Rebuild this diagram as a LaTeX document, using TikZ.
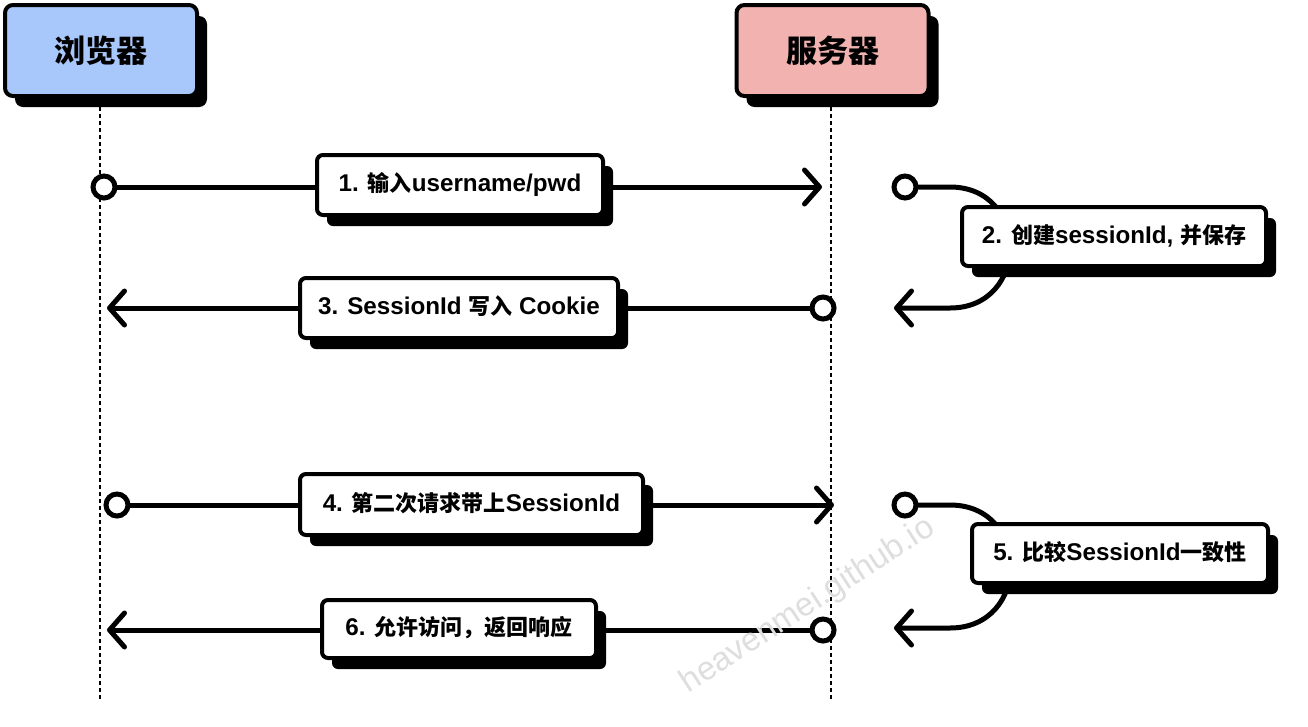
\documentclass[tikz,border=0pt]{standalone}
\usepackage{fontspec}
\setmainfont{Liberation Sans}[Scale=1.1]
\newfontfamily\cjk{Noto Sans CJK SC}
\newfontfamily\wmfont{Liberation Sans}
\usetikzlibrary{arrows.meta,shadows}
\newcommand\zhw[1]{{\cjk #1}}
\definecolor{browserblue}{RGB}{168,199,250}
\definecolor{serverpink}{RGB}{242,178,176}
\begin{document}
\begin{tikzpicture}[x=1pt,y=-1pt,
  shadowed/.style={drop shadow={shadow xshift=10pt, shadow yshift=-11pt, opacity=1, fill=black}},
  lbl/.style={draw=black, line width=4pt, rounded corners=6pt, fill=white, inner sep=0pt,
    text height=17pt, text depth=4pt,
    font=\fontsize{22}{26}\selectfont\bfseries, shadowed},
  title/.style={draw=black, line width=4pt, rounded corners=8pt, inner sep=0pt,
    minimum width=192pt, minimum height=91pt,
    font=\fontsize{31}{35}\selectfont\bfseries\cjk, shadowed},
  life/.style={line width=2pt, dash pattern=on 4pt off 3pt},
  conn/.style={line width=5pt, line cap=round},
  arr/.style={-{Straight Barb[length=15pt,width=34pt,round]}},
  dotc/.style={circle, draw=black, line width=5pt, fill=white, minimum size=22pt, inner sep=0pt}
]
\useasboundingbox (0,0) rectangle (1308,726);
\fill[white] (0,0) rectangle (1308,726);

% lifelines
\coordinate (bl0) at (100,100);
\coordinate (bl1) at (100,700);
\coordinate (sl0) at (831,100);
\coordinate (sl1) at (831,700);
\draw[life] (bl0) -- (bl1);
\draw[life] (sl0) -- (sl1);

% header boxes
\node[title, fill=browserblue] (browser) at (101,50.5) {浏览器};
\node[title, fill=serverpink] (server) at (832.5,50.5) {服务器};

% message 1
\node[dotc] (s1) at (104,187) {};
\coordinate (t1) at (822,187);
\draw[conn,arr] (s1) -- (t1);

% self loop 2
\node[dotc] (s2) at (905,187) {};
\coordinate (a2) at (950,187);
\coordinate (b2) at (950,308);
\coordinate (t2) at (894,308);
\draw[conn,arr] (s2) -- (a2) .. controls (1030,187) and (1030,308) .. (b2) -- (t2);

% message 3
\node[dotc] (s3) at (823,308) {};
\coordinate (t3) at (107,308);
\draw[conn,arr] (s3) -- (t3);

% message 4
\node[dotc] (s4) at (117,505) {};
\coordinate (t4) at (834,505);
\draw[conn,arr] (s4) -- (t4);

% self loop 5
\node[dotc] (s5) at (905,505) {};
\coordinate (a5) at (950,505);
\coordinate (b5) at (950,628);
\coordinate (t5) at (894,628);
\draw[conn,arr] (s5) -- (a5) .. controls (1031,505) and (1031,628) .. (b5) -- (t5);

% message 6
\node[dotc] (s6) at (823,630) {};
\coordinate (t6) at (107,630);
\draw[conn,arr] (s6) -- (t6);

% labels
\node[lbl, minimum width=286pt, minimum height=60pt] (l1) at (460,185) {1. \zhw{输入}username/pwd};
\node[lbl, minimum width=304pt, minimum height=59pt] (l2) at (1114,236.5) {2. \zhw{创建}sessionId, \zhw{并保存}};
\node[lbl, minimum width=318pt, minimum height=60pt] (l3) at (459,308) {3. SessionId \zhw{写入} Cookie};
\node[lbl, minimum width=343pt, minimum height=61pt] (l4) at (471.5,504.5) {4. \zhw{第二次请求带上}SessionId};
\node[lbl, minimum width=296pt, minimum height=59pt] (l5) at (1120,553.5) {5. \zhw{比较}SessionId\zhw{一致性}};
\node[lbl, minimum width=274pt, minimum height=58pt] (l6) at (459,629) {6. \zhw{允许访问，返回响应}};

% watermark
\node[rotate=33, text=black!13, font=\fontsize{33}{37}\selectfont\wmfont] (wm) at (808,606) {heavenmei.github.io};
\end{tikzpicture}
\end{document}
